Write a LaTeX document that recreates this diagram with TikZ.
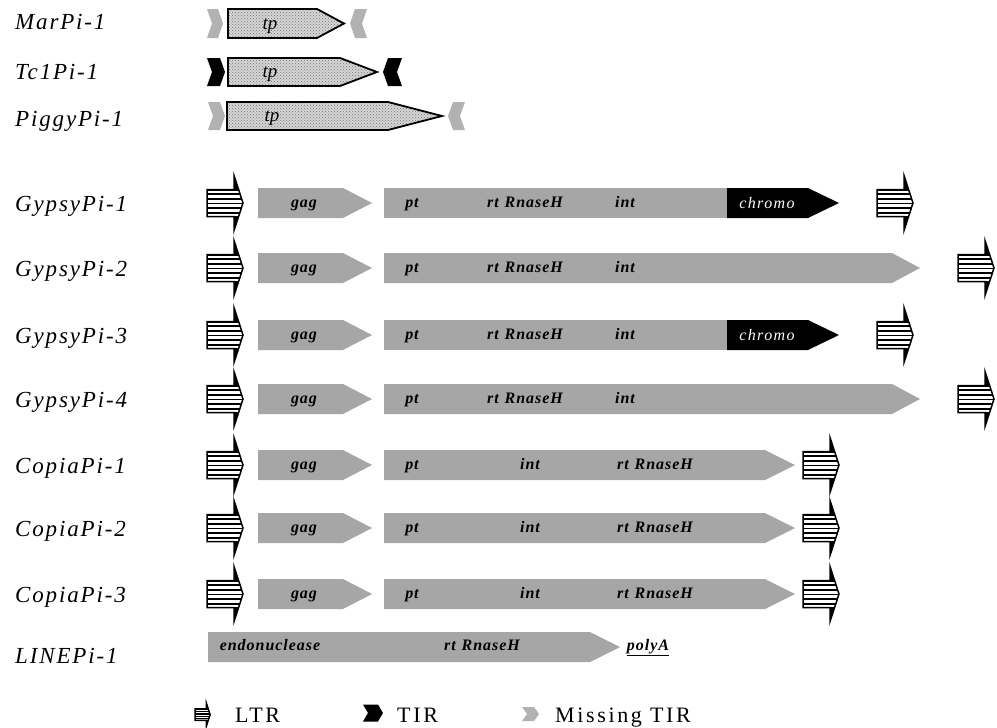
\documentclass[tikz,border=0pt]{standalone}
\usepackage{fontspec}
\setmainfont{Liberation Serif}
\newfontfamily\labfont[LetterSpace=8]{Liberation Serif}
\newfontfamily\legfont[LetterSpace=12]{Liberation Serif}
\newfontfamily\innfont[LetterSpace=6]{Liberation Serif}
\newfontfamily\chrfont[LetterSpace=9]{Liberation Serif}
\usetikzlibrary{patterns}
\definecolor{gb}{HTML}{A6A6A6}
\definecolor{mtir}{HTML}{B2B2B2}
\definecolor{tpf}{HTML}{D6D6D6}
\tikzset{
  lab/.style={anchor=base west, inner sep=0pt, font=\labfont\fontsize{23}{23}\selectfont\itshape},
  inn/.style={anchor=base, inner sep=0pt, font=\innfont\fontsize{16}{16}\selectfont\bfseries\itshape},
  chr/.style={anchor=base, inner sep=0pt, text=white, font=\chrfont\fontsize{16}{16}\selectfont\itshape},
  tpt/.style={anchor=base, inner sep=0pt, font=\fontsize{19}{19}\selectfont\itshape},
  leg/.style={anchor=base west, inner sep=0pt, font=\legfont\fontsize{22}{22}\selectfont},
  tpdots/.style={pattern=crosshatch dots, pattern color=gray!90!black},
}
% LTR arrow: #1 x-left, #2 y-center
\newcommand\LTRarrow[2]{%
\begin{scope}[shift={(#1,#2)}]
 \begin{scope}
  \clip (0,-13.5) -- (27,-13.5) -- (27,-27.5) -- (36,0) -- (27,27.5) -- (27,13.5) -- (0,13.5) -- cycle;
  \fill[white] (-1,-30) rectangle (40,30);
  \foreach \k in {0,...,6} \fill[black] (0,-14.2+\k*4.6) rectangle (40,-12.4+\k*4.6);
  \fill[black] (27,-27.5) -- (31,-13.5) -- (27,-13.5) -- cycle;
  \fill[black] (27,27.5) -- (31,13.5) -- (27,13.5) -- cycle;
 \end{scope}
 \draw[line width=1.5, line join=miter] (0,-13.5) -- (27,-13.5) -- (27,-27.5) -- (36,0) -- (27,27.5) -- (27,13.5) -- (0,13.5) -- cycle;
\end{scope}}
% right-pointing chevron (">"): #1 x-left, #2 y, #3 width, #4 half height, #5 colour
\newcommand\chevR[5]{%
 \fill[#5] (#1,#2-#4) -- ++(#3-5,0) -- (#1+#3,#2) -- (#1+#3-5,#2+#4) -- (#1,#2+#4) -- (#1+5,#2) -- cycle;}
% left-pointing chevron ("<")
\newcommand\chevL[5]{%
 \fill[#5] (#1+5,#2-#4) -- (#1+#3,#2-#4) -- (#1+#3-5,#2) -- (#1+#3,#2+#4) -- (#1+5,#2+#4) -- (#1,#2) -- cycle;}
% grey arrow box: #1 x-left, #2 shoulder, #3 tip, #4 y
\newcommand\garrow[4]{%
 \fill[gb] (#1,#4-15) -- (#2,#4-15) -- (#3,#4) -- (#2,#4+15) -- (#1,#4+15) -- cycle;}
% tp box: #1 x-left, #2 shoulder, #3 tip, #4 y, #5 half height
\newcommand\tpbox[5]{%
 \fill[tpf] (#1,#4-#5) -- (#2,#4-#5) -- (#3,#4) -- (#2,#4+#5) -- (#1,#4+#5) -- cycle;
 \fill[tpdots] (#1,#4-#5) -- (#2,#4-#5) -- (#3,#4) -- (#2,#4+#5) -- (#1,#4+#5) -- cycle;
 \draw[line width=1.8, line join=miter] (#1,#4-#5) -- (#2,#4-#5) -- (#3,#4) -- (#2,#4+#5) -- (#1,#4+#5) -- cycle;}
\begin{document}
\begin{tikzpicture}[x=1pt,y=-1pt]
\useasboundingbox (0,0) rectangle (997,728);
\fill[white] (0,0) rectangle (997,728);

% ---------- labels ----------
\node[lab] (l1) at (15,30) {MarPi-1};
\node[lab] (l2) at (15,79) {Tc1Pi-1};
\node[lab] (l3) at (15,126) {PiggyPi-1};
\node[lab] (l4) at (15,211) {GypsyPi-1};
\node[lab] (l5) at (15,276) {GypsyPi-2};
\node[lab] (l6) at (15,343) {GypsyPi-3};
\node[lab] (l7) at (15,407) {GypsyPi-4};
\node[lab] (l8) at (15,473) {CopiaPi-1};
\node[lab] (l9) at (15,536) {CopiaPi-2};
\node[lab] (l10) at (15,602) {CopiaPi-3};
\node[lab] (l11) at (15,663) {LINEPi-1};

% ---------- transposons ----------
% MarPi-1
\chevR{207}{23.5}{16}{14.5}{mtir}
\tpbox{228}{317}{344}{23.5}{14.5}
\node[tpt] (tp1) at (270,29) {tp};
\chevL{350}{23.5}{17}{14.5}{mtir}
% Tc1Pi-1
\chevR{207}{72}{18}{14}{black}
\tpbox{228}{340}{377}{72}{14}
\node[tpt] (tp2) at (270,77.5) {tp};
\chevL{383}{72}{19}{14}{black}
% PiggyPi-1
\chevR{208}{116}{17}{14}{mtir}
\tpbox{227}{388}{442}{116}{14}
\node[tpt] (tp3) at (272,121.5) {tp};
\chevL{448}{116}{17}{14}{mtir}

% ---------- Gypsy ----------
\foreach \y/\chromo in {203/1,268/0,335/1,399/0}{
  \LTRarrow{207}{\y}
  \garrow{258}{343}{372}{\y}
  \ifnum\chromo=1
    \fill[gb] (384,\y-15) rectangle (728,\y+15);
    \fill[black] (727,\y-15) -- (808,\y-15) -- (839,\y) -- (808,\y+15) -- (727,\y+15) -- cycle;
    \node[chr] at (767,\y+5) {chromo};
    \LTRarrow{877}{\y}
  \else
    \garrow{384}{892}{920}{\y}
    \LTRarrow{958}{\y}
  \fi
  \node[inn] at (304,\y+4) {gag};
  \node[inn] at (412,\y+4) {pt};
  \node[inn] at (525,\y+4) {rt\hspace{6pt}RnaseH};
  \node[inn] at (625,\y+4) {int};
}

% ---------- Copia ----------
\foreach \y in {465,528,594}{
  \LTRarrow{207}{\y}
  \garrow{258}{343}{372}{\y}
  \garrow{384}{765}{795}{\y}
  \node[inn] at (304,\y+4) {gag};
  \node[inn] at (412,\y+4) {pt};
  \node[inn] at (530,\y+4) {int};
  \node[inn] at (655,\y+4) {rt\hspace{6pt}RnaseH};
  \LTRarrow{803}{\y}
}

% ---------- LINE ----------
\garrow{208}{590}{620}{647}
\node[inn] (endo) at (270,650) {endonuclease};
\node[inn] (lrt) at (482,650) {rt\hspace{6pt}RnaseH};
\node[inn] (polya) at (648,650) {\underline{polyA}};

% ---------- legend ----------
\begin{scope}[shift={(195,702)}, scale=0.42]
 \LTRarrow{0}{30}
\end{scope}
\node[leg] (lLTR) at (235,722) {LTR};
\chevR{363}{713}{20}{8.5}{black}
\node[leg] (lTIR) at (397,722) {TIR};
\chevR{522}{714}{17}{7}{mtir}
\node[leg] (lMiss) at (555,722) {Missing TIR};
\end{tikzpicture}
\end{document}
